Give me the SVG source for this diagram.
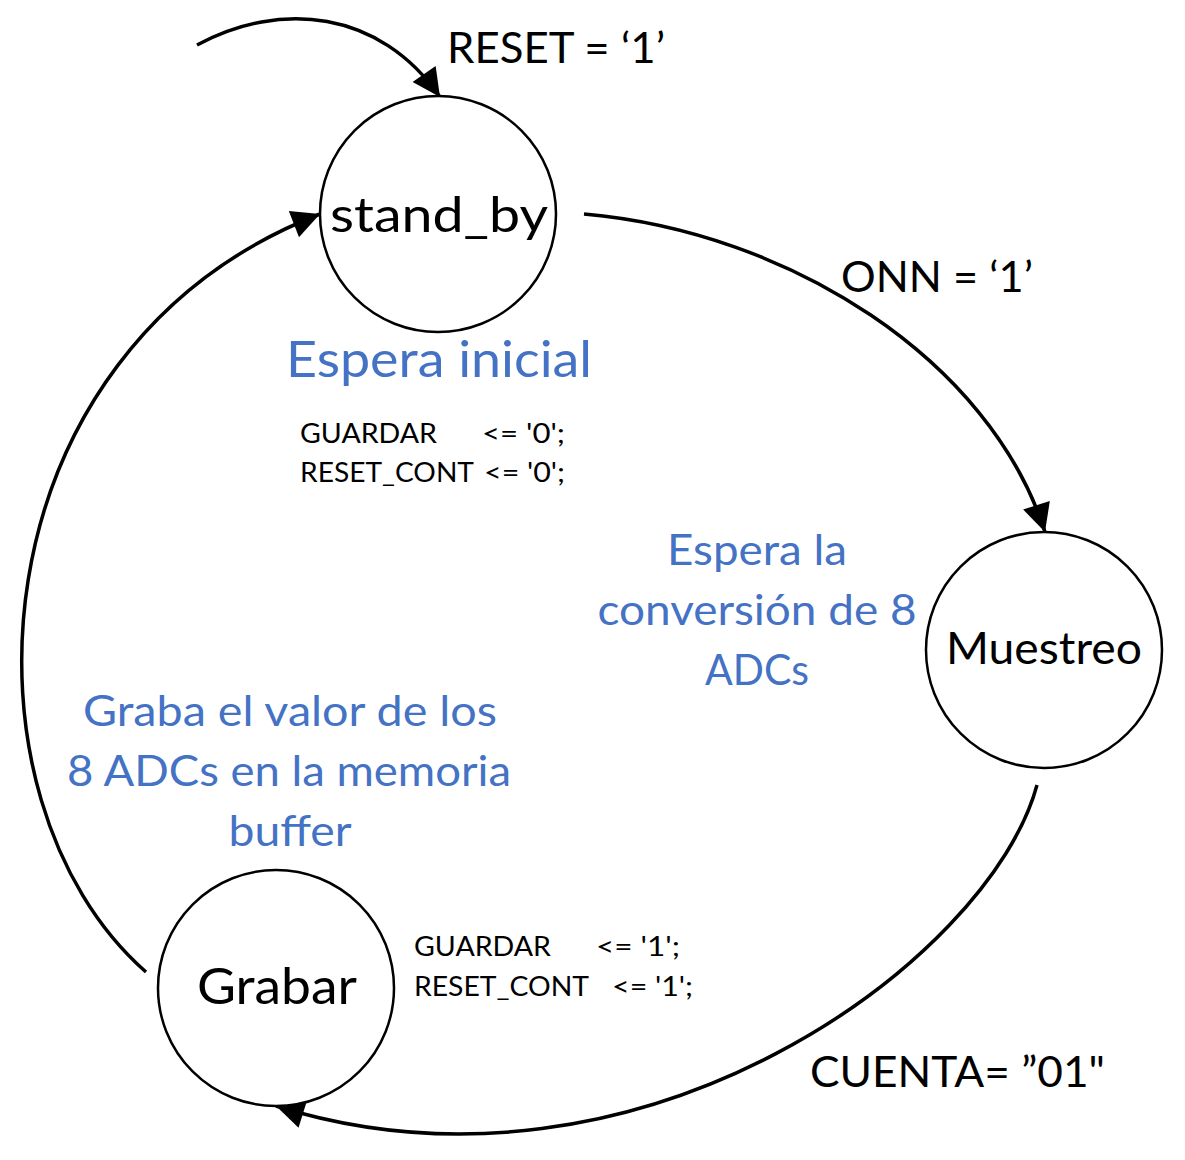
<svg xmlns="http://www.w3.org/2000/svg" width="1185" height="1160" viewBox="0 0 1185 1160">
<defs>
<style>
.st{fill:#fff;stroke:#000;stroke-width:2.5}
.ed{fill:none;stroke:#000;stroke-width:3.5}
.t{font-family:Lato,"Open Sans","Liberation Sans",sans-serif;fill:#000}
.b{font-family:Lato,"Open Sans","Liberation Sans",sans-serif;fill:#4472C4;font-size:42px}
.s{font-family:Lato,"Open Sans","Liberation Sans",sans-serif;fill:#000;font-size:27px}
</style>
<marker id="ah" viewBox="0 0 10 10" refX="10" refY="5" markerWidth="9" markerHeight="8" markerUnits="strokeWidth" orient="auto">
<path d="M0,0 L10,5 L0,10 Z" fill="#000"/>
</marker>
</defs>
<rect width="1185" height="1160" fill="#fff"/>
<g id="connectors">
<path class="ed" d="M197,45 C280,0 380,10 440,97" marker-end="url(#ah)"/>
<path class="ed" d="M584,214 C790,232 990,360 1045,532" marker-end="url(#ah)"/>
<path class="ed" d="M1037,785 C990,960 640,1220 276,1106" marker-end="url(#ah)"/>
<path class="ed" d="M146,972 C-50,800 -30,350 320,214" marker-end="url(#ah)"/>
</g>
<g id="stand_by">
<circle class="st" cx="438" cy="214" r="118"/>
<text class="t" x="439" y="232" font-size="48" text-anchor="middle" textLength="218" lengthAdjust="spacingAndGlyphs">stand_by</text>
</g>
<g id="Muestreo">
<circle class="st" cx="1044" cy="650" r="118"/>
<text class="t" x="1044" y="664" font-size="44" text-anchor="middle" textLength="196" lengthAdjust="spacingAndGlyphs">Muestreo</text>
</g>
<g id="Grabar">
<circle class="st" cx="276" cy="988" r="118"/>
<text class="t" x="277" y="1004" font-size="50" text-anchor="middle" textLength="160" lengthAdjust="spacingAndGlyphs">Grabar</text>
</g>
<g id="labels">
<text class="t" x="447" y="63" font-size="42" textLength="218" lengthAdjust="spacingAndGlyphs">RESET = ‘1’</text>
<text class="t" x="841" y="292" font-size="42" textLength="192" lengthAdjust="spacingAndGlyphs">ONN = ‘1’</text>
<text class="t" x="810" y="1087" font-size="42" textLength="295" lengthAdjust="spacingAndGlyphs">CUENTA= ”01"</text>
<text class="b" x="439" y="377" text-anchor="middle" textLength="306" lengthAdjust="spacingAndGlyphs" style="font-size:50px">Espera inicial</text>
<text class="b" x="757" y="565" text-anchor="middle" textLength="180" lengthAdjust="spacingAndGlyphs">Espera la</text>
<text class="b" x="757" y="625" text-anchor="middle" textLength="319" lengthAdjust="spacingAndGlyphs">conversión de 8</text>
<text class="b" x="757" y="685" text-anchor="middle" textLength="104" lengthAdjust="spacingAndGlyphs">ADCs</text>
<text class="b" x="290" y="726" text-anchor="middle" textLength="414" lengthAdjust="spacingAndGlyphs">Graba el valor de los</text>
<text class="b" x="289" y="786" text-anchor="middle" textLength="444" lengthAdjust="spacingAndGlyphs">8 ADCs en la memoria</text>
<text class="b" x="290" y="846" text-anchor="middle" textLength="123" lengthAdjust="spacingAndGlyphs">buffer</text>
<text class="s" x="300" y="443" textLength="137" lengthAdjust="spacingAndGlyphs">GUARDAR</text>
<text class="s" x="482" y="443" textLength="83" lengthAdjust="spacingAndGlyphs">&lt;= '0';</text>
<text class="s" x="300" y="482" textLength="174" lengthAdjust="spacingAndGlyphs">RESET_CONT</text>
<text class="s" x="484" y="482" textLength="81" lengthAdjust="spacingAndGlyphs">&lt;= '0';</text>
<text class="s" x="414" y="956" textLength="137" lengthAdjust="spacingAndGlyphs">GUARDAR</text>
<text class="s" x="596" y="956" textLength="84" lengthAdjust="spacingAndGlyphs">&lt;= '1';</text>
<text class="s" x="414" y="996" textLength="175" lengthAdjust="spacingAndGlyphs">RESET_CONT</text>
<text class="s" x="612" y="996" textLength="81" lengthAdjust="spacingAndGlyphs">&lt;= '1';</text>
</g>
</svg>
